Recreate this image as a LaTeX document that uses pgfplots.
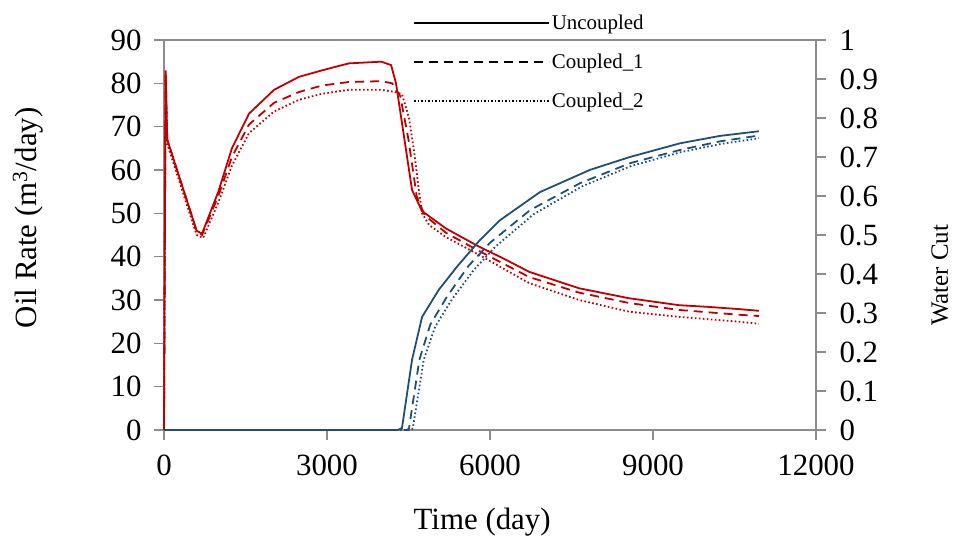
\documentclass[border=0pt]{standalone}
\usepackage{pgfplots}
\pgfplotsset{compat=1.18}
\usepackage{pgfplotstable}
\usepackage{fontspec}
\setmainfont{Liberation Serif}
\definecolor{oilred}{HTML}{C00000}
\definecolor{wcblue}{HTML}{1F4E79}
\definecolor{axgray}{HTML}{8C8C8C}

\pgfplotstableread{
t q
0 0
30 83
60 67
600 46
700 45.3
1000 55
1250 65
1565 73
2025 78.5
2485 81.5
2910 83
3400 84.6
4000 85
4180 84.2
4270 80
4565 55.4
4750 50.5
5190 46.5
5800 42.3
6260 39.5
6720 36.5
7640 32.7
8560 30.4
9480 28.8
10030 28.4
10580 27.9
10950 27.5
}\oilA
\pgfplotstableread{
t q
0 0
30 82.5
60 67
600 46
700 45
1000 54
1250 63
1565 70.5
2025 75.5
2485 78
2910 79.5
3400 80.3
4000 80.5
4200 80
4350 77
4500 67
4650 54
4800 49.5
5190 45.5
5800 41.3
6720 35.3
7640 31.7
8560 29.3
9480 27.7
10580 26.6
10950 26.3
}\oilB
\pgfplotstableread{
t q
0 0
30 82
60 66
600 45
720 44.3
1000 52.5
1250 61
1565 68.5
2025 73.5
2485 76.2
2910 77.6
3400 78.5
4000 78.5
4250 78
4380 77.5
4510 72
4600 64.6
4690 55.4
4750 50
4880 47.3
5190 44.5
5800 40.4
6720 33.9
7640 30
8560 27.3
9480 26.1
10580 25
10950 24.5
}\oilC
\pgfplotstableread{
t w
0 0
4300 0
4380 0.005
4565 0.18
4750 0.29
5060 0.36
5400 0.42
5815 0.487
6185 0.538
6920 0.61
7840 0.667
8575 0.70
9495 0.735
10230 0.754
10950 0.766
}\wcA
\pgfplotstableread{
t w
0 0
4480 0
4510 0.005
4700 0.18
4900 0.27
5200 0.34
5600 0.42
6000 0.48
6740 0.564
7660 0.633
8575 0.684
9495 0.718
10230 0.74
10950 0.755
}\wcB
\pgfplotstableread{
t w
0 0
4550 0
4580 0.005
4780 0.18
4990 0.265
5300 0.335
5700 0.41
6100 0.47
6800 0.553
7700 0.625
8600 0.677
9500 0.712
10230 0.733
10950 0.748
}\wcC

\begin{document}
\begin{tikzpicture}
\pgfplotsset{
  common/.style={
    scale only axis, width=652bp, height=390bp,
    xmin=0, xmax=12000,
    axis line style={axgray, line width=1.2bp},
    tick style={axgray, line width=1.2bp},
    tick align=outside,
    major tick length=10bp,
    ticklabel style={font=\fontsize{31}{33}\selectfont},
    /pgf/number format/assume math mode=true,
    scaled x ticks=false,
    clip=false,
  },
  s1/.style={line width=1.8bp},
  s2/.style={line width=1.8bp, dash pattern=on 9bp off 6bp},
  s3/.style={line width=1.8bp, dash pattern=on 1.6bp off 2.4bp},
}
\begin{axis}[common,
  axis y line*=left, axis x line*=bottom,
  ymin=0, ymax=90, ytick={0,10,20,30,40,50,60,70,80,90},
  yticklabel style={xshift=-9bp},
  xtick={0,3000,6000,9000,12000},
  xticklabels={0,3000,6000,9000,12000},
  xticklabel style={yshift=-11bp},
  ylabel={Oil Rate (m\textsuperscript{3}/day)},
  ylabel style={font=\fontsize{31}{33}\selectfont, at={(axis description cs:-0.209,0.544)}, anchor=center},
  xlabel={Time (day)},
  xlabel style={font=\fontsize{31}{33}\selectfont, at={(axis description cs:0.488,-0.236)}, anchor=center},
  legend style={at={(axis description cs:0.382,1.07)}, anchor=north west, draw=none, fill=none,
    font=\fontsize{21}{23}\selectfont, row sep=19bp, inner sep=0pt, nodes={inner sep=2bp}},
  legend cell align=left,
  legend image code/.code={\draw[#1] (0bp,0bp) -- (135bp,0bp);},
]
\draw[axgray, line width=1.2bp] (rel axis cs:0,1) -- (rel axis cs:1,1);
\addplot[oilred, s1, forget plot] table[x=t,y=q] {\oilA};
\addplot[oilred, s2, forget plot] table[x=t,y=q] {\oilB};
\addplot[oilred, s3, forget plot] table[x=t,y=q] {\oilC};
\addlegendimage{black, line width=1.6bp}
\addlegendimage{black, line width=1.6bp, dash pattern=on 9bp off 6bp}
\addlegendimage{black, line width=1.6bp, dash pattern=on 1.5bp off 2bp}
\legend{Uncoupled, Coupled\_1, Coupled\_2}
\coordinate (bl) at (rel axis cs:0,0);
\coordinate (tr) at (rel axis cs:1,1);
\end{axis}
\begin{axis}[common,
  axis y line*=right, axis x line=none,
  ymin=0, ymax=1,
  ytick={0,0.1,0.2,0.3,0.4,0.5,0.6,0.7,0.8,0.9,1},
  yticklabels={0,0.1,0.2,0.3,0.4,0.5,0.6,0.7,0.8,0.9,1},
  yticklabel style={xshift=10bp},
  ylabel={Water Cut},
  ylabel style={font=\fontsize{25}{27}\selectfont, at={(axis description cs:1.19,0.397)}, anchor=center, rotate=0},
]
\addplot[wcblue, s1] table[x=t,y=w] {\wcA};
\addplot[wcblue, s2] table[x=t,y=w] {\wcB};
\addplot[wcblue, s3] table[x=t,y=w] {\wcC};
\end{axis}
\pgfresetboundingbox
\path[use as bounding box] ([shift={(-164bp,-112bp)}]bl) rectangle ([shift={(137bp,40bp)}]tr);
\end{tikzpicture}
\end{document}
